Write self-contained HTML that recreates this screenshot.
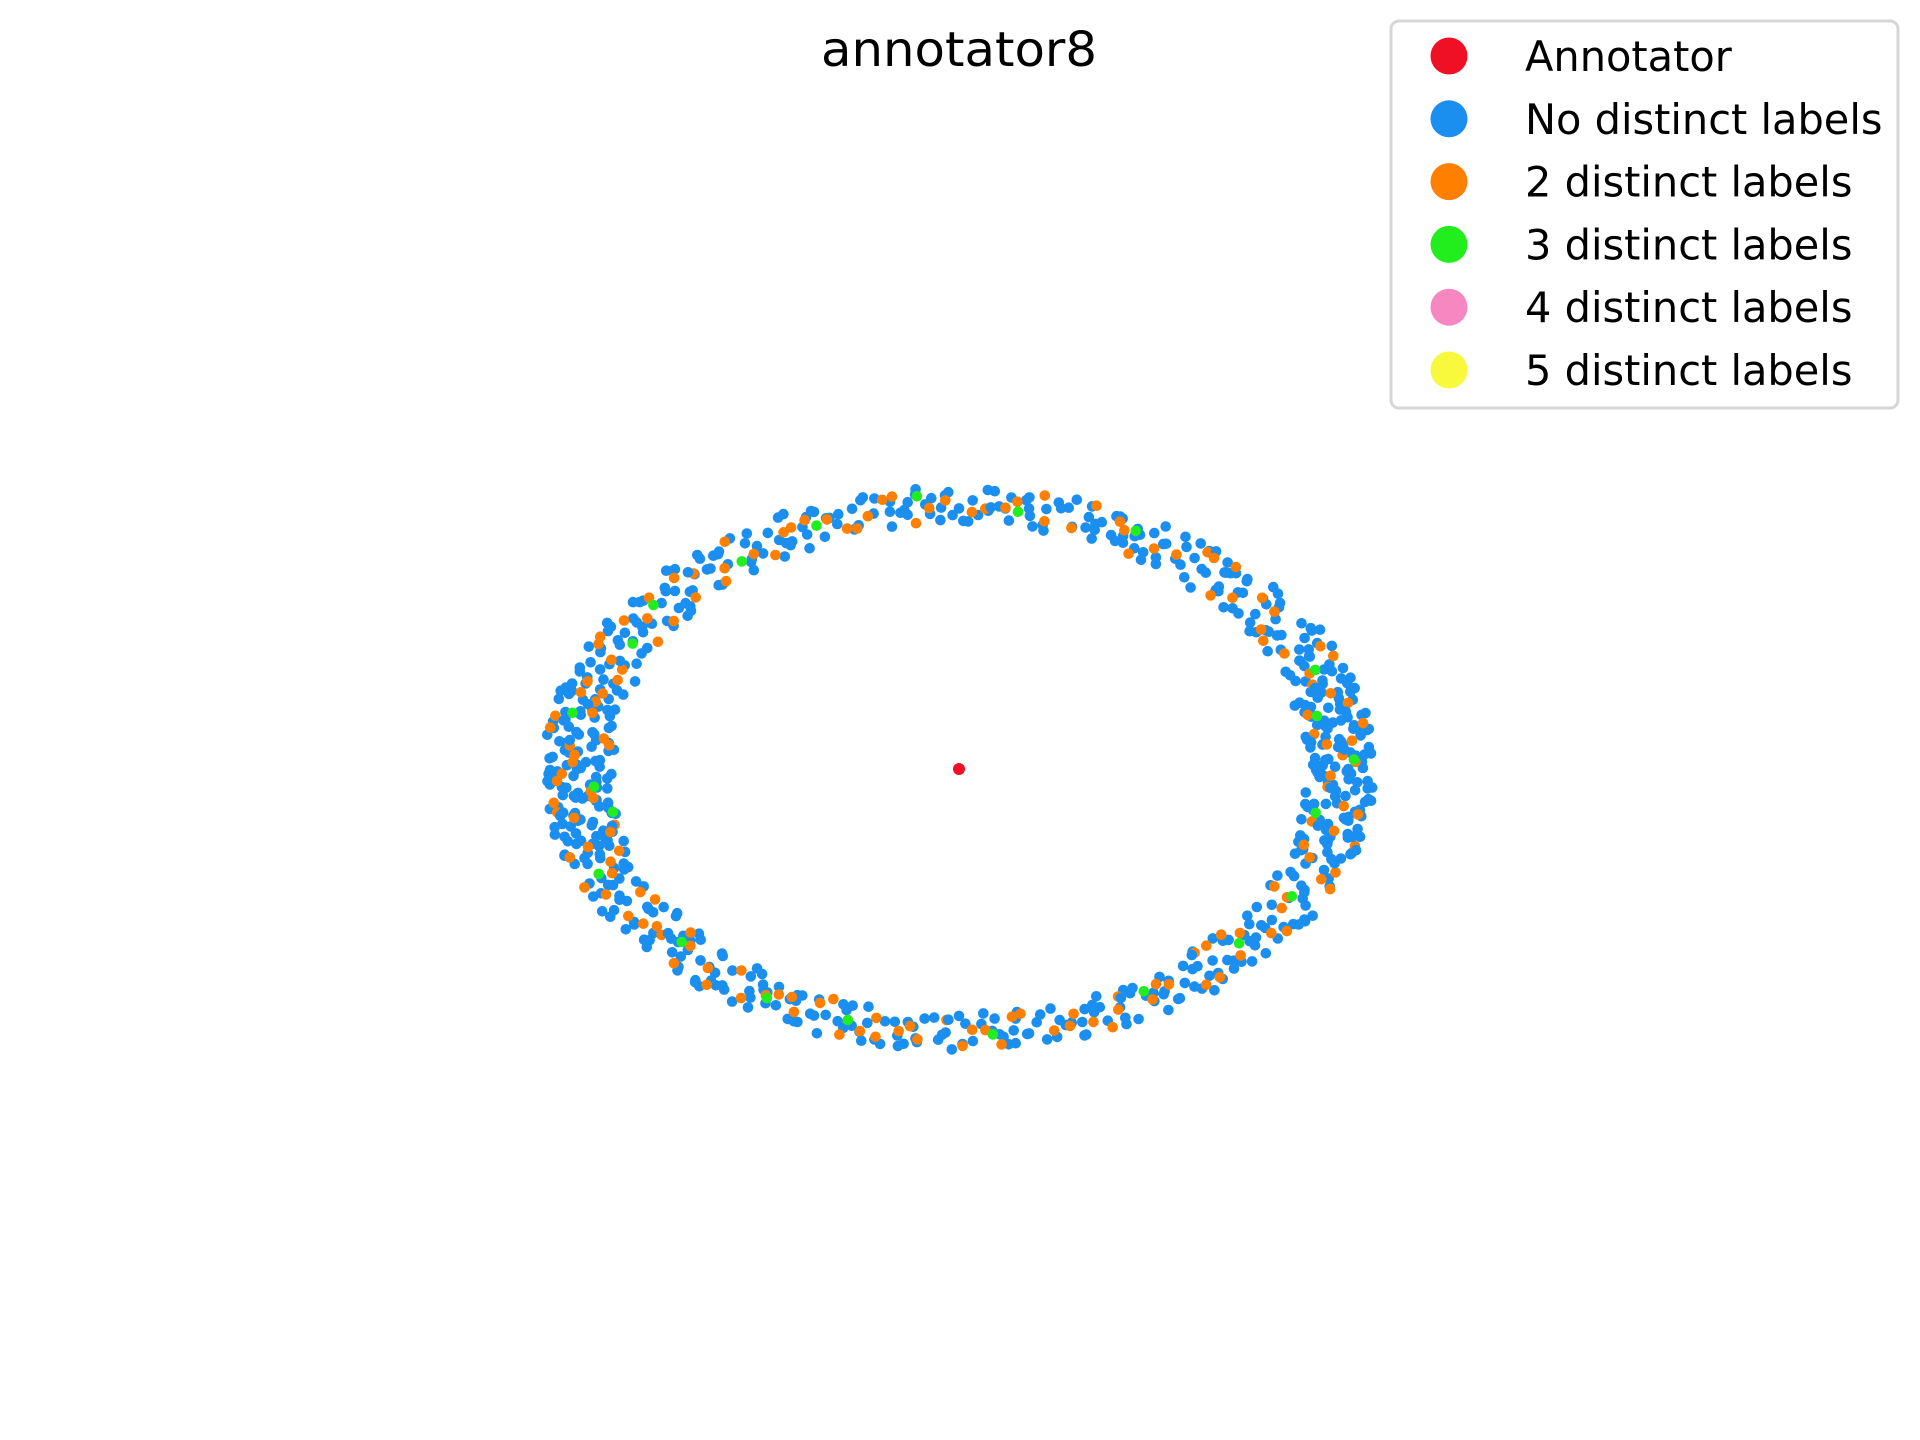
<!DOCTYPE html>
<html><head><meta charset="utf-8"><title>annotator8</title>
<style>html,body{margin:0;padding:0;background:#fff;}svg{display:block;}</style></head>
<body>
<svg id="chart" xmlns="http://www.w3.org/2000/svg" width="1920" height="1440" viewBox="0 0 1920 1440">
<text x="959" y="66" text-anchor="middle" font-family="DejaVu Sans, Liberation Sans, sans-serif" font-size="48" textLength="276" lengthAdjust="spacingAndGlyphs" fill="#000">annotator8</text>
<g id="points"></g>
<g>
<rect x="1391" y="21" width="507" height="387" rx="8" fill="#fff" stroke="#d6d6d6" stroke-width="3"/>
<g id="legend-entries"></g>
</g>
</svg>
<script>
// Polar data: angle (degrees, 0 = right, counter-clockwise) and depth into ring (0 = inner edge, 1 = outer edge)
const annotatorPoint = [0, 0];
const blueA = [0,2,3,5,6,8,9,11,12,14,15,17,18,20,21,23,25,26,28,29,31,32,34,36,37,39,40,42,44,45,47,48,50,52,53,55,56,58,60,61,63,64,66,68,69,71,72,74,76,77,79,80,82,84,85,87,88,90,92,93,95,96,98,100,101,103,104,106,108,109,111,112,114,116,117,119,120,122,124,125,127,128,130,132,133,135,136,138,140,141,143,144,146,148,149,151,152,154,156,157,159,160,162,164,165,167,168,170,172,173,175,176,178,180,181,183,184,186,188,189,191,192,194,196,197,199,200,202,204,205,207,208,210,212,213,215,216,218,220,221,223,224,226,228,229,231,232,234,236,237,239,240,242,244,245,247,248,250,252,253,255,256,258,260,261,263,264,266,268,269,271,272,274,276,277,279,280,282,284,285,287,288,290,292,293,295,296,298,300,301,303,304,306,308,309,311,312,314,316,317,319,320,322,324,325,327,328,330,332,333,335,336,338,340,341,343,344,346,348,349,351,352,354,356,357,359,
1,4,7,10,13,16,19,22,27,30,33,38,41,46,49,54,57,62,67,70,75,78,83,86,91,94,99,102,107,110,115,118,123,126,131,134,139,142,147,150,155,158,163,166,171,174,179,182,187,190,195,198,203,206,211,214,219,222,227,230,235,238,243,246,251,254,259,262,267,270,275,278,283,286,291,294,299,302,307,310,315,318,323,326,331,334,339,342,347,350,355,358];
const blueF = [0.62,0.31,0.85,0.12,0.55,0.93,0.40,0.71,0.22,0.67,0.05,0.48,0.88,0.34,0.76,0.15,0.59,0.97,0.28,0.70,0.44,0.82,0.09,0.63,0.37,0.91,0.18,0.52,0.78,0.26,0.65,0.03,0.46,0.86,0.33,0.72,0.11,0.57,0.95,0.24,0.68,0.42,0.80,0.14,0.50,0.89,0.30,0.74,0.07,0.61,0.38,0.84,0.20,0.54,0.92,0.29,0.66,0.45,0.79,0.16,0.58,0.98,0.35,0.73,0.10,0.49,0.87,0.27,0.64,0.41,0.83,0.19,0.56,0.94,0.32,0.69,0.06,0.51,0.90,0.25,0.75,0.43,0.81,0.13,0.60,0.96,0.36,0.71,0.08,0.53,0.88,0.23,0.67,0.39,0.85,0.17,0.55,0.93,0.30,0.77,0.04,0.47,0.86,0.28,0.62,0.44,0.80,0.12,0.58,0.97,0.34,0.70,0.21,0.52,0.91,0.26,0.68,0.40,0.83,0.15,0.57,0.95,0.31,0.74,0.09,0.49,0.89,0.24,0.65,0.42,0.79,0.18,0.54,0.92,0.36,0.72,0.06,0.60,0.87,0.29,0.66,0.45,0.82,0.14,0.50,0.94,0.33,0.76,0.11,0.56,0.90,0.22,0.63,0.38,0.84,0.19,0.59,0.98,0.27,0.71,0.08,0.48,0.86,0.35,0.69,0.43,0.81,0.16,0.53,0.96,0.30,0.75,0.05,0.61,0.88,0.25,0.67,0.41,0.85,0.13,0.57,0.93,0.32,0.73,0.10,0.51,0.90,0.28,0.64,0.46,0.80,0.20,0.55,0.97,0.37,0.70,0.07,0.58,0.87,0.23,0.66,0.39,0.83,0.17,0.52,0.94,0.34,0.77,0.12,0.60,0.89,0.26,0.68,0.44,0.82,0.15,0.54,0.95,0.31,0.72,
0.78,0.20,0.47,0.90,0.35,0.66,0.14,0.58,0.83,0.27,0.71,0.40,0.96,0.18,0.52,0.87,0.30,0.63,0.09,0.75,0.44,0.92,0.24,0.57,0.81,0.36,0.69,0.13,0.50,0.94,0.28,0.73,0.42,0.86,0.19,0.61,0.98,0.33,0.67,0.07,0.55,0.89,0.25,0.78,0.46,0.84,0.16,0.59,0.92,0.38,0.70,0.11,0.53,0.88,0.29,0.65,0.43,0.97,0.21,0.56,0.80,0.34,0.74,0.08,0.48,0.91,0.26,0.68,0.39,0.85,0.15,0.62,0.95,0.32,0.72,0.10,0.51,0.87,0.23,0.60,0.45,0.93,0.19,0.58,0.82,0.37,0.76,0.12,0.54,0.90];
const blueA2 = [0.5,1.5,2.5,3.5,4.5,5.5,6.5,7.5,8.5,9.5,10.5,11.5,12.5,13.5,14.5,15.5,16.5,17.5,18.5,19.5,20.5,22.5,24.5,26.5,28.5,30.5,32.5,34.5,36.5,38.5,40.5,42.5,44.5,46.5,48.5,50.5,52.5,54.5,56.5,58.5,60.5,62.5,64.5,66.5,68.5,70.5,73.5,76.5,79.5,82.5,85.5,88.5,91.5,94.5,97.5,100.5,103.5,106.5,109.5,112.5,115.5,118.5,121.5,124.5,127.5,130.5,132.5,134.5,136.5,138.5,140.5,142.5,144.5,146.5,148.5,150.5,152.5,154.5,156.5,158.5,160.5,161.5,162.5,163.5,164.5,165.5,166.5,167.5,168.5,169.5,170.5,171.5,172.5,173.5,174.5,175.5,176.5,177.5,178.5,179.5,180.5,181.5,182.5,183.5,184.5,185.5,186.5,187.5,188.5,189.5,190.5,191.5,192.5,193.5,194.5,195.5,196.5,197.5,198.5,199.5,200.5,202.5,204.5,206.5,208.5,210.5,212.5,214.5,216.5,218.5,220.5,222.5,224.5,226.5,228.5,230.5,232.5,234.5,236.5,238.5,240.5,243.5,246.5,249.5,252.5,255.5,258.5,261.5,264.5,267.5,270.5,273.5,276.5,279.5,282.5,285.5,288.5,291.5,294.5,297.5,300.5,302.5,304.5,306.5,308.5,310.5,312.5,314.5,316.5,318.5,320.5,322.5,324.5,326.5,328.5,330.5,332.5,334.5,336.5,338.5,340.5,341.5,342.5,343.5,344.5,345.5,346.5,347.5,348.5,349.5,350.5,351.5,352.5,353.5,354.5,355.5,356.5,357.5,358.5,359.5,
1.2,3.2,5.2,7.2,9.2,11.2,13.2,15.2,17.2,19.2,184.2,186.2,188.2,190.2,192.2,194.2,196.2,198.2,340.2,342.2,344.2,346.2,348.2,350.2,352.2,354.2,356.2,358.2,160.2,162.2,164.2,166.2,168.2,170.2,172.2,174.2,176.2,178.2,180.2,182.2,21.7,24.7,29.7,35.7,43.7,57.7,65.7,75.7,92.7,105.7,117.7,129.7,137.7,145.7,153.7,205.7,213.7,221.7,229.7,237.7,251.7,263.7,275.7,287.7,299.7,309.7,317.7,325.7,333.7];
const blueF2 = [0.44,0.81,0.17,0.66,0.92,0.29,0.53,0.08,0.75,0.38,0.61,0.97,0.23,0.49,0.86,0.13,0.70,0.34,0.90,0.57,0.21,0.78,0.43,0.64,0.10,0.88,0.32,0.55,0.74,0.18,0.95,0.47,0.27,0.69,0.84,0.14,0.59,0.39,0.91,0.06,0.72,0.50,0.25,0.83,0.36,0.62,0.97,0.20,0.56,0.79,0.41,0.12,0.87,0.33,0.67,0.48,0.93,0.22,0.60,0.76,0.04,0.45,0.85,0.30,0.71,0.53,0.16,0.89,0.37,0.65,0.26,0.80,0.09,0.58,0.94,0.42,0.19,0.73,0.51,0.87,0.31,0.68,0.11,0.82,0.46,0.95,0.24,0.60,0.38,0.77,0.15,0.90,0.54,0.29,0.70,0.03,0.64,0.86,0.40,0.21,0.79,0.57,0.93,0.35,0.12,0.74,0.48,0.88,0.27,0.62,0.07,0.83,0.44,0.98,0.19,0.66,0.52,0.31,0.91,0.14,0.72,0.40,0.85,0.23,0.58,0.96,0.35,0.69,0.11,0.80,0.47,0.28,0.63,0.89,0.17,0.54,0.76,0.05,0.92,0.41,0.67,0.25,0.84,0.50,0.13,0.73,0.37,0.95,0.20,0.59,0.82,0.32,0.68,0.09,0.87,0.45,0.61,0.27,0.78,0.16,0.94,0.53,0.36,0.71,0.22,0.85,0.43,0.66,0.08,0.90,0.56,0.30,0.75,0.18,0.97,0.48,0.62,0.12,0.81,0.39,0.70,0.26,0.93,0.55,0.14,0.79,0.46,0.88,0.33,0.65,0.21,0.84,0.51,0.97,0.06,0.73,0.42,0.89,0.28,0.60,0.17,0.94,0.57,0.35,0.77,
0.91,0.15,0.68,0.40,0.83,0.26,0.57,0.95,0.12,0.73,0.86,0.30,0.64,0.18,0.92,0.49,0.77,0.08,0.88,0.36,0.61,0.96,0.23,0.70,0.45,0.84,0.14,0.58,0.93,0.33,0.79,0.52,0.27,0.89,0.11,0.67,0.42,0.98,0.20,0.74,0.60,0.35,0.82,0.48,0.70,0.25,0.90,0.55,0.38,0.76,0.62,0.15,0.44,0.87,0.31,0.58,0.72,0.20,0.94,0.46,0.66,0.28,0.83,0.52,0.37,0.79,0.17,0.61,0.88];
const blueA3 = [0.8,2.8,4.8,6.8,8.8,10.8,12.8,14.8,16.8,18.8,23.3,27.3,33.3,39.3,45.3,51.3,59.3,68.3,80.3,89.3,98.3,111.3,122.3,133.3,141.3,149.3,155.3,159.3,161.8,163.8,165.8,167.8,169.8,171.8,173.8,175.8,177.8,179.8,181.8,183.8,185.8,187.8,189.8,191.8,193.8,195.8,197.8,199.8,203.3,209.3,215.3,223.3,231.3,239.3,247.3,256.3,268.3,280.3,292.3,303.3,311.3,319.3,327.3,335.3,339.8,341.8,343.8,345.8,347.8,349.8,351.8,353.8,355.8,357.8,359.8,0.2,2.2,4.2,6.2,8.2,10.2,12.2,14.2,16.2,18.2,179.2,181.2,183.2,185.2,187.2,189.2,191.2,193.2,195.2,197.2,199.2,341.2,343.2,345.2,347.2,349.2,351.2,353.2,355.2,357.2,359.2,21.2,25.2,31.2,37.2,47.2,63.2,85.2,96.2,114.2,128.2,139.2,151.2,207.2,219.2,233.2,244.2,262.2,278.2,296.2,313.2,323.2,331.2];
const blueF3 = [0.27,0.73,0.50,0.09,0.86,0.38,0.64,0.19,0.95,0.55,0.44,0.81,0.16,0.67,0.35,0.92,0.23,0.58,0.76,0.13,0.48,0.87,0.31,0.70,0.05,0.61,0.40,0.84,0.22,0.97,0.53,0.18,0.79,0.36,0.65,0.10,0.90,0.47,0.26,0.74,0.59,0.14,0.83,0.41,0.69,0.32,0.96,0.51,0.28,0.62,0.88,0.15,0.72,0.43,0.57,0.94,0.20,0.66,0.37,0.80,0.12,0.54,0.91,0.34,0.77,0.60,0.21,0.85,0.46,0.71,0.08,0.93,0.39,0.63,0.18,0.82,0.35,0.58,0.14,0.96,0.49,0.71,0.26,0.87,0.42,0.66,0.05,0.90,0.53,0.30,0.78,0.61,0.17,0.84,0.45,0.72,0.24,0.97,0.55,0.33,0.68,0.12,0.89,0.47,0.75,0.20,0.93,0.59,0.38,0.81,0.64,0.27,0.50,0.85,0.36,0.73,0.15,0.62,0.92,0.43,0.70,0.22,0.88,0.54,0.31,0.79,0.46,0.66];
const orangeA = [3,8,14,19,24,31,36,42,47,55,61,66,72,78,83,88,92,97,101,104,108,113,117,121,125,129,133,137,141,145,149,153,157,161,165,169,173,177,181,185,189,193,197,201,205,209,213,217,221,225,229,233,237,241,245,249,253,257,261,264,268,272,276,280,284,288,292,296,300,304,308,312,316,320,324,328,332,336,340,344,348,352,356,6,27,52,86,110,131,147,163,175,187,199,219,243,258,274,290,318,338,354];
const orangeF = [0.55,0.20,0.78,0.41,0.90,0.15,0.63,0.33,0.85,0.48,0.08,0.71,0.27,0.94,0.52,0.36,0.66,0.12,0.80,0.45,0.25,0.70,0.58,0.17,0.88,0.39,0.62,0.22,0.75,0.50,0.10,0.83,0.30,0.67,0.44,0.92,0.19,0.56,0.73,0.35,0.86,0.13,0.60,0.40,0.95,0.28,0.69,0.47,0.16,0.81,0.53,0.24,0.77,0.38,0.64,0.09,0.89,0.32,0.57,0.74,0.21,0.46,0.87,0.14,0.68,0.37,0.91,0.26,0.59,0.43,0.79,0.11,0.65,0.31,0.84,0.50,0.18,0.72,0.40,0.93,0.23,0.61,0.35,0.70,0.29,0.82,0.46,0.58,0.15,0.76,0.39,0.64,0.88,0.21,0.53,0.33,0.79,0.48,0.67,0.12,0.85];
const orangeA2 = [1.5,5.5,9.5,12.5,16.5,21.5,26.5,33.5,39.5,44.5,50.5,58.5,64.5,70.5,76.5,81.5,94.5,99.5,106.5,115.5,123.5,135.5,143.5,151.5,155.5,159.5,163.5,167.5,171.5,174.5,178.5,182.5,186.5,190.5,194.5,198.5,203.5,207.5,211.5,215.5,223.5,231.5,239.5,247.5,255.5,262.5,270.5,278.5,286.5,294.5,302.5,310.5,314.5,322.5,330.5,334.5,342.5,346.5,350.5,358.5];
const orangeF2 = [0.72,0.35,0.90,0.18,0.60,0.45,0.82,0.25,0.67,0.12,0.78,0.40,0.55,0.93,0.30,0.70,0.48,0.85,0.20,0.63,0.38,0.76,0.15,0.88,0.52,0.28,0.69,0.43,0.95,0.10,0.58,0.80,0.33,0.65,0.22,0.91,0.47,0.74,0.17,0.60,0.36,0.84,0.50,0.26,0.71,0.42,0.87,0.19,0.64,0.55,0.31,0.79,0.12,0.68,0.45,0.92,0.24,0.57,0.83,0.38];
const greenA = [2,12,22,63,81,96,112,126,142,151,168,184,190,203,222,240,253,275,300,318,331,350];
const greenF = [0.70,0.30,0.55,0.62,0.45,0.80,0.50,0.35,0.60,0.40,0.70,0.30,0.10,0.65,0.40,0.55,0.50,0.60,0.35,0.45,0.50,0.25];
const legendLabels = ["Annotator","No distinct labels","2 distinct labels","3 distinct labels","4 distinct labels","5 distinct labels"];
const legendColors = ["#f01026","#1a8ff0","#ff8000","#22ee1e","#f787c0","#f8f83c"];

const NS = "http://www.w3.org/2000/svg";
const cx = 959, cy = 769, rxIn = 344, rxOut = 417, ryIn = 243, ryOut = 282;
function xScale(a, f){ return cx + Math.cos(a*Math.PI/180) * (rxIn + f*(rxOut-rxIn)); }
function yScale(a, f){ return cy - Math.sin(a*Math.PI/180) * (ryIn + f*(ryOut-ryIn)); }
const pts = document.getElementById('points');
function drawSeries(A, F, color, name){
  const g = document.createElementNS(NS,'g');
  
  
  const n = Math.min(A.length, F.length);
  for (let i=0;i<n;i++){
    const c = document.createElementNS(NS,'circle');
    c.setAttribute('cx', xScale(A[i], F[i]).toFixed(1));
    c.setAttribute('cy', yScale(A[i], F[i]).toFixed(1));
    c.setAttribute('r', 5.3);
    c.setAttribute('fill', color);
    
    
    g.appendChild(c);
  }
  pts.appendChild(g);
}
drawSeries(blueA, blueF, legendColors[1], 'no-distinct-labels');
drawSeries(blueA2, blueF2, legendColors[1], 'no-distinct-labels');
drawSeries(orangeA, orangeF, legendColors[2], 'two-distinct-labels');
drawSeries(blueA3, blueF3, legendColors[1], 'no-distinct-labels');
drawSeries(orangeA2, orangeF2, legendColors[2], 'two-distinct-labels');
drawSeries(greenA, greenF, legendColors[3], 'three-distinct-labels');
const ann = document.createElementNS(NS,'circle');
ann.setAttribute('cx', cx + annotatorPoint[0]);
ann.setAttribute('cy', cy - annotatorPoint[1]);
ann.setAttribute('r', 6);
ann.setAttribute('fill', legendColors[0]);


pts.appendChild(ann);

const le = document.getElementById('legend-entries');
for (let i=0;i<legendLabels.length;i++){
  const y = 56 + i*62.8;
  const g = document.createElementNS(NS,'g');
  
  
  const m = document.createElementNS(NS,'circle');
  m.setAttribute('cx', 1449); m.setAttribute('cy', y.toFixed(1)); m.setAttribute('r', 18.5);
  m.setAttribute('fill', legendColors[i]);
  
  
  const t = document.createElementNS(NS,'text');
  t.setAttribute('x', 1525); t.setAttribute('y', (y+15).toFixed(1));
  t.setAttribute('font-family', 'DejaVu Sans, Liberation Sans, sans-serif');
  t.setAttribute('font-size', 41.5);
  t.setAttribute('fill', '#000');
  
  
  t.textContent = legendLabels[i];
  g.appendChild(m); g.appendChild(t); le.appendChild(g);
}
</script>
</body></html>
